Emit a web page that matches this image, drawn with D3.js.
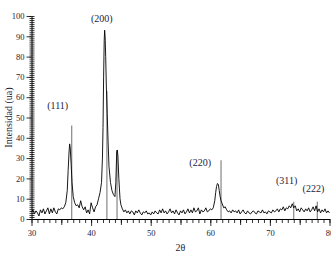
<!DOCTYPE html>
<html>
<head>
<meta charset="utf-8">
<script src="https://cdn.jsdelivr.net/npm/d3@7"></script>
<style>
  body { margin: 0; background: #fff; }
  svg { display: block; }
</style>
</head>
<body>
<div id="chart"></div>
<script>
// XRD scan, 2theta (deg) vs intensidad (ua)
var scan = [
  [30.00,3.5],[30.25,4.5],[30.50,2.5],[30.75,4],[31.00,3],[31.25,1.5],[31.50,4.5],[31.75,3],
  [32.00,5],[32.25,2.5],[32.50,4],[32.75,5.5],[33.00,2.5],[33.25,5],[33.50,3],[33.75,5.5],
  [34.00,3.5],[34.25,2.5],[34.50,5],[34.75,4.5],[35.00,5.5],[35.25,5],[35.50,6],[35.75,8],
  [36.00,14],[36.15,24],[36.30,33],[36.40,37],[36.50,35],[36.65,27],[36.80,18],[37.00,11],
  [37.25,8],[37.50,6.5],[37.75,7],[38.00,5.5],[38.25,9],[38.50,6],[38.75,4.5],[39.00,6],
  [39.25,3],[39.50,4.5],[39.75,2.5],[40.00,8],[40.25,5.5],[40.50,3.5],[40.75,6],[41.00,7],
  [41.25,10],[41.50,13],[41.75,18],[41.90,30],[42.00,45],[42.10,70],[42.20,88],[42.27,93],
  [42.35,90],[42.45,80],[42.55,66],[42.70,52],[42.85,38],[43.00,26],[43.25,18],[43.50,14],
  [43.75,12],[44.00,11],[44.15,18],[44.30,33],[44.40,34],[44.50,31],[44.65,20],[44.85,10],
  [45.00,7],[45.25,5],[45.50,3.5],[45.75,4.5],[46.00,3],[46.25,4],[46.50,2.5],[46.75,4],
  [47.00,3.5],[47.25,2],[47.50,4],[47.75,3],[48.00,4.5],[48.25,3],[48.50,2],[48.75,3.5],
  [49.00,3],[49.25,4],[49.50,2.5],[49.75,3],[50.00,2],[50.25,3.5],[50.50,2.5],[50.75,4],
  [51.00,3],[51.25,2.5],[51.50,4.5],[51.75,3],[52.00,5],[52.25,3],[52.50,4],[52.75,2.5],
  [53.00,3.5],[53.25,5],[53.50,3],[53.75,4],[54.00,2.5],[54.25,4.5],[54.50,3],[54.75,2],
  [55.00,4],[55.25,3],[55.50,4.5],[55.75,2.5],[56.00,3.5],[56.25,5],[56.50,3],[56.75,4.5],
  [57.00,3],[57.25,5.5],[57.50,3.5],[57.75,4],[58.00,5.5],[58.25,2.5],[58.50,4.5],[58.75,3.5],
  [59.00,4],[59.25,5.5],[59.50,3.5],[59.75,4],[60.00,5],[60.25,4.5],[60.50,5.5],[60.75,9],
  [60.90,13],[61.05,16],[61.20,17.5],[61.35,17],[61.50,14],[61.65,11],[61.80,9],[62.00,7.5],
  [62.25,5.5],[62.50,6],[62.75,4.5],[63.00,3.5],[63.25,4],[63.50,3],[63.75,4.5],[64.00,3.5],
  [64.25,4],[64.50,3],[64.75,4.5],[65.00,2.5],[65.25,3.5],[65.50,4.5],[65.75,3],[66.00,2.5],
  [66.25,4],[66.50,3],[66.75,2.5],[67.00,3.5],[67.25,4],[67.50,3],[67.75,2.5],[68.00,4],
  [68.25,3.5],[68.50,3],[68.75,4.5],[69.00,3],[69.25,3.5],[69.50,2.5],[69.75,4],[70.00,3.5],
  [70.25,3],[70.50,4.5],[70.75,3.5],[71.00,4],[71.25,5],[71.50,3.5],[71.75,5],[72.00,4.5],
  [72.25,6],[72.50,4],[72.75,5.5],[73.00,5],[73.25,6.5],[73.50,5.5],[73.75,7.5],[74.00,5.5],
  [74.25,6.5],[74.50,4],[74.75,5],[75.00,3.5],[75.25,5.5],[75.50,4.5],[75.75,3.5],[76.00,5],
  [76.25,4],[76.50,5.5],[76.75,3.5],[77.00,4.5],[77.25,6],[77.50,4],[77.75,6.5],[78.00,3.5],
  [78.25,5],[78.50,3],[78.75,4.5],[79.00,3.5],[79.25,5],[79.50,3],[79.75,4],[80.00,3]
];

// reference pattern lines
var stickAngle  = [36.75, 42.65, 44.35, 61.8, 74.0, 77.95];
var stickHeight = [46, 63, 34, 29, 8.5, 8.5];

// peak labels
var hkl      = ["(111)", "(200)", "(220)", "(311)", "(222)"];
var hklAngle = [34.4, 41.8, 58.3, 72.8, 77.3];
var hklLevel = [54, 97, 26, 17, 13.5];

var xMajor = [30, 40, 50, 60, 70, 80];
var yMajor = [0, 10, 20, 30, 40, 50, 60, 70, 80, 90, 100];

var W = 336, H = 259;
var txtColor = "#1c1c3c";

var svg = d3.select("#chart").append("svg")
    .attr("width", W)
    .attr("height", H)
    .style("font-family", "'Liberation Serif', 'Times New Roman', serif");

// the original picture is cut on the right, just after the 8 of 80
svg.append("defs").append("clipPath").attr("id", "cut")
    .append("rect").attr("x", 0).attr("y", 0).attr("width", 331).attr("height", H);

var g = svg.append("g").attr("clip-path", "url(#cut)");

var x = d3.scaleLinear().domain([30, 80]).range([31.5, 329.5]);
var y = d3.scaleLinear().domain([0, 100]).range([219, 16]);

// y axis : dense ruler, ticks cross the line
g.append("g").attr("transform", "translate(31.5,0)")
    .call(d3.axisLeft(y).tickValues(d3.range(0, 101, 1)).tickSize(2).tickFormat(""))
    .call(function(a){ a.select(".domain").remove(); });
g.append("g").attr("transform", "translate(31.5,0)")
    .call(d3.axisRight(y).tickValues(d3.range(0, 101, 1)).tickSize(3).tickFormat(""))
    .call(function(a){ a.select(".domain").remove(); });
var yAx = g.append("g").attr("transform", "translate(31.5,0)")
    .call(d3.axisLeft(y).tickValues(yMajor).tickSizeInner(5).tickSizeOuter(0).tickPadding(2));

// x axis
g.append("g").attr("transform", "translate(0,219)")
    .call(d3.axisBottom(x).tickValues(d3.range(30, 81, 1)).tickSize(4).tickFormat(""))
    .call(function(a){ a.select(".domain").remove(); });
g.append("g").attr("transform", "translate(0,219)")
    .call(d3.axisBottom(x).tickValues(d3.range(35, 80, 10)).tickSize(6).tickFormat(""))
    .call(function(a){ a.select(".domain").remove(); });
var xAx = g.append("g").attr("transform", "translate(0,219)")
    .call(d3.axisBottom(x).tickValues(xMajor).tickSizeInner(7).tickSizeOuter(0).tickPadding(4));

g.selectAll(".tick line").attr("stroke", "#000").attr("stroke-width", 0.8);
g.selectAll(".domain").attr("stroke", "#000").attr("stroke-width", 1);
g.selectAll(".tick text")
    .attr("font-size", "8.5px")
    .attr("font-family", "'Liberation Serif', serif")
    .attr("fill", txtColor);

// reference sticks
g.selectAll("line.stick")
    .data(stickAngle)
    .enter()
    .append("line")
    .attr("class", "stick")
    .attr("x1", function(d){ return x(d); })
    .attr("x2", function(d){ return x(d); })
    .attr("y1", y(0))
    .attr("y2", function(d, i){ return y(stickHeight[i]); })
    .attr("stroke", "#7a7a7a")
    .attr("stroke-width", 1.1);

// measured pattern
var line = d3.line()
    .x(function(d){ return x(d[0]); })
    .y(function(d){ return y(d[1]); });

g.append("path")
    .datum(scan)
    .attr("d", line)
    .attr("fill", "none")
    .attr("stroke", "#000")
    .attr("stroke-width", 0.9)
    .attr("stroke-linejoin", "round");

// hkl labels
g.selectAll("text.hkl")
    .data(hkl)
    .enter()
    .append("text")
    .attr("class", "hkl")
    .attr("x", function(d, i){ return x(hklAngle[i]); })
    .attr("y", function(d, i){ return y(hklLevel[i]); })
    .attr("text-anchor", "middle")
    .attr("font-size", "10px")
    .attr("fill", txtColor)
    .text(function(d){ return d; });

// axis titles
g.append("text")
    .attr("transform", "translate(12," + y(50) + ") rotate(-90)")
    .attr("text-anchor", "middle")
    .attr("font-size", "10px")
    .attr("fill", txtColor)
    .text("Intensidad (ua)");

g.append("text")
    .attr("x", x(55))
    .attr("y", 251)
    .attr("text-anchor", "middle")
    .attr("font-size", "10px")
    .attr("fill", txtColor)
    .text("2θ");
</script>
</body>
</html>
